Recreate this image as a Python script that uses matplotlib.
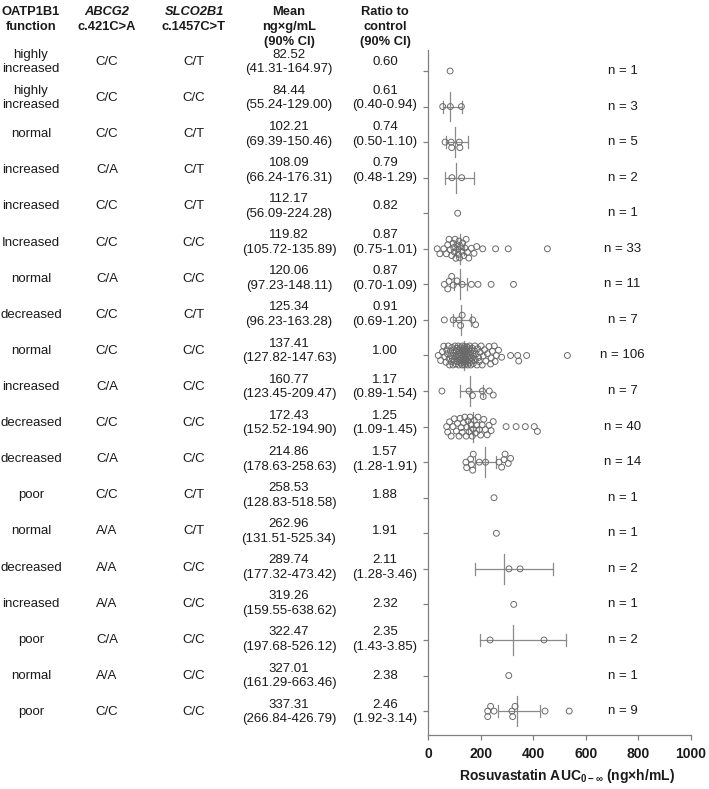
import numpy as np
import matplotlib
matplotlib.use('Agg')
import matplotlib.pyplot as plt

plt.rcParams['font.family'] = ['Liberation Sans', 'DejaVu Sans']
plt.rcParams['mathtext.fontset'] = 'custom'
plt.rcParams['mathtext.rm'] = 'Liberation Sans'
plt.rcParams['mathtext.bf'] = 'Liberation Sans:bold'

# ---- table data ----
func = ['highly\nincreased', 'highly\nincreased', 'normal', 'increased', 'increased',
        'Increased', 'normal', 'decreased', 'normal', 'increased', 'decreased',
        'decreased', 'poor', 'normal', 'decreased', 'increased', 'poor', 'normal', 'poor']
abcg2 = ['C/C', 'C/C', 'C/C', 'C/A', 'C/C', 'C/C', 'C/A', 'C/C', 'C/C', 'C/A',
         'C/C', 'C/A', 'C/C', 'A/A', 'A/A', 'A/A', 'C/A', 'A/A', 'C/C']
slco2b1 = ['C/T', 'C/C', 'C/T', 'C/T', 'C/T', 'C/C', 'C/C', 'C/T', 'C/C', 'C/C',
           'C/C', 'C/C', 'C/T', 'C/T', 'C/C', 'C/C', 'C/C', 'C/C', 'C/C']
means = [82.52, 84.44, 102.21, 108.09, 112.17, 119.82, 120.06, 125.34, 137.41, 160.77,
         172.43, 214.86, 258.53, 262.96, 289.74, 319.26, 322.47, 327.01, 337.31]
ci_lo = [41.31, 55.24, 69.39, 66.24, 56.09, 105.72, 97.23, 96.23, 127.82, 123.45,
         152.52, 178.63, 128.83, 131.51, 177.32, 159.55, 197.68, 161.29, 266.84]
ci_hi = [164.97, 129.00, 150.46, 176.31, 224.28, 135.89, 148.11, 163.28, 147.63, 209.47,
         194.90, 258.63, 518.58, 525.34, 473.42, 638.62, 526.12, 663.46, 426.79]
ratio = [0.60, 0.61, 0.74, 0.79, 0.82, 0.87, 0.87, 0.91, 1.00, 1.17,
         1.25, 1.57, 1.88, 1.91, 2.11, 2.32, 2.35, 2.38, 2.46]
ratio_ci = [None, '0.40-0.94', '0.50-1.10', '0.48-1.29', None, '0.75-1.01', '0.70-1.09',
            '0.69-1.20', None, '0.89-1.54', '1.09-1.45', '1.28-1.91', None, None,
            '1.28-3.46', None, '1.43-3.85', None, '1.92-3.14']

# ---- individual AUC values ----
points = [
    [84],
    [56, 85, 127],
    [65, 88, 90, 119, 121],
    [91, 128],
    [113],
    [35, 45, 60, 70, 75, 80, 85, 90, 95, 98, 100, 103, 106, 110, 113, 115, 118, 120, 124,
     128, 132, 136, 140, 145, 150, 155, 165, 175, 185, 208, 257, 305, 454],
    [62, 75, 80, 90, 96, 110, 130, 165, 190, 240, 325],
    [62, 96, 118, 124, 130, 170, 181],
    [39, 48, 55, 60, 64, 68, 71, 74, 77, 80, 82, 85, 87, 89, 91, 93, 95, 97, 99, 101,
     103, 104, 106, 108, 109, 111, 112, 114, 115, 117, 118, 119, 120, 122, 123, 124, 125,
     127, 128, 129, 130, 131, 132, 133, 134, 135, 136, 137, 138, 139, 140, 141, 142, 143,
     144, 145, 146, 147, 148, 149, 150, 151, 152, 153, 155, 156, 157, 158, 160, 161, 163,
     164, 166, 168, 170, 172, 174, 176, 178, 180, 183, 186, 189, 192, 195, 198, 202, 206,
     210, 215, 220, 226, 232, 238, 240, 245, 252, 255, 260, 268, 280, 314, 341, 345, 375, 530],
    [53, 156, 169, 207, 210, 233, 248],
    [71, 75, 82, 88, 95, 100, 108, 112, 118, 122, 126, 130, 135, 140, 145, 148, 152, 156,
     160, 164, 168, 172, 176, 180, 185, 190, 195, 200, 206, 212, 218, 225, 232, 240, 248,
     297, 335, 370, 404, 416],
    [144, 147, 162, 165, 170, 172, 195, 219, 270, 280, 289, 293, 305, 314],
    [251],
    [260],
    [308, 350],
    [326],
    [236, 441],
    [307],
    [227, 227, 238, 251, 319, 322, 331, 445, 537],
]

W, H = 709, 789
fig = plt.figure(figsize=(W / 100, H / 100), dpi=100)

# background axes in pixel units for the table
ax_t = fig.add_axes([0, 0, 1, 1])
ax_t.set_xlim(0, W)
ax_t.set_ylim(H, 0)
ax_t.axis('off')

col_x = [31, 107, 194, 289, 385]
fs = 9.5
ls = 1.3
txt_col = '#1a1a1a'

# header
hdr = [
    [('OATP1B1', 'normal'), ('function', 'normal')],
    [('ABCG2', 'italic'), ('c.421C>A', 'normal')],
    [('SLCO2B1', 'italic'), ('c.1457C>T', 'normal')],
    [('Mean', 'normal'), ('ng×g/mL', 'normal'), ('(90% CI)', 'normal')],
    [('Ratio to', 'normal'), ('control', 'normal'), ('(90% CI)', 'normal')],
]
hdr_y = [12, 27, 42]
for cx, lines in zip(col_x, hdr):
    for (s, st), yy in zip(lines, hdr_y):
        ax_t.text(cx, yy, s, ha='center', va='center', fontsize=9.3,
                  fontweight='bold', fontstyle=st, color=txt_col)

# body rows
row_top, row_bot = 62, 712
row_y = np.linspace(row_top, row_bot, len(means))
for i, y in enumerate(row_y):
    ax_t.text(col_x[0], y, func[i], ha='center', va='center', fontsize=fs,
              color=txt_col, linespacing=ls)
    ax_t.text(col_x[1], y, abcg2[i], ha='center', va='center', fontsize=fs, color=txt_col)
    ax_t.text(col_x[2], y, slco2b1[i], ha='center', va='center', fontsize=fs, color=txt_col)
    ax_t.text(col_x[3], y, f'{means[i]:.2f}\n({ci_lo[i]:.2f}-{ci_hi[i]:.2f})',
              ha='center', va='center', fontsize=fs, color=txt_col, linespacing=ls)
    r = f'{ratio[i]:.2f}' if ratio_ci[i] is None else f'{ratio[i]:.2f}\n({ratio_ci[i]})'
    ax_t.text(col_x[4], y, r, ha='center', va='center', fontsize=fs, color=txt_col,
              linespacing=ls)

ax_t.text(567, 776, r'Rosuvastatin AUC$_{\mathbf{0-\infty}}$ (ng×h/mL)', ha='center',
          va='center', fontsize=10, fontweight='bold', color=txt_col)

# ---- scatter axes ----
ax_l, ax_r, ax_top, ax_bot = 428, 691, 50, 735
ax = fig.add_axes([ax_l / W, 1 - ax_bot / H, (ax_r - ax_l) / W, (ax_bot - ax_top) / H])
ax.set_xlim(0, 1000)
row_px = 35.56
y_first = 71
ax.set_ylim((ax_bot - y_first) / row_px, (ax_top - y_first) / row_px)

px_per_x = (ax_r - ax_l) / 1000.0


def swarm(vals, d=5.5, cap=9.5):
    xs = np.asarray(vals, dtype=float) * px_per_x
    offs = np.zeros(len(xs))
    c = np.arange(0.25, cap + 0.01, 0.25)
    cands = np.concatenate([[0.0], np.ravel(np.column_stack([c, -c]))])
    px, py = [], []
    for i in np.argsort(xs):
        if not px:
            best = 0.0
        else:
            ppx, ppy = np.array(px), np.array(py)
            dist = np.sqrt((xs[i] - ppx[None, :]) ** 2 + (cands[:, None] - ppy[None, :]) ** 2)
            md = dist.min(axis=1)
            ok = np.where(md >= d)[0]
            best = cands[ok[0]] if len(ok) else cands[np.argmax(md)]
        offs[i] = best
        px.append(xs[i])
        py.append(best)
    return offs / row_px


pt_col = '#6a6a6a'
bar_col = '#8a8a8a'
for i, vals in enumerate(points):
    offs = swarm(vals)
    ax.scatter(vals, i + offs, s=18, facecolors='none', edgecolors=pt_col,
               linewidths=0.7, zorder=3)
    if len(vals) > 1:
        ax.plot([ci_lo[i], ci_hi[i]], [i, i], color=bar_col, lw=0.9, zorder=2)
        for xx in (ci_lo[i], ci_hi[i]):
            ax.plot([xx, xx], [i - 0.17, i + 0.17], color=bar_col, lw=0.9, zorder=2)
        ax.plot([means[i], means[i]], [i - 0.42, i + 0.42], color=bar_col, lw=0.9, zorder=2)
    ax.text(740, i, f'n = {len(vals)}', ha='center', va='center', fontsize=9.5,
            color=txt_col)

for s in ('top', 'right'):
    ax.spines[s].set_visible(False)
for s in ('left', 'bottom'):
    ax.spines[s].set_color('#808080')
    ax.spines[s].set_linewidth(0.9)
ax.set_yticks(range(len(means)))
ax.set_yticklabels([])
ax.set_xticks([0, 200, 400, 600, 800, 1000])
ax.tick_params(axis='both', direction='out', length=3.5, width=0.9, color='#808080')
ax.tick_params(axis='x', labelsize=10, pad=5, labelcolor=txt_col)
plt.setp(ax.get_xticklabels(), fontweight='bold')
ax.patch.set_alpha(0)

fig.savefig('out.png', dpi=100)
